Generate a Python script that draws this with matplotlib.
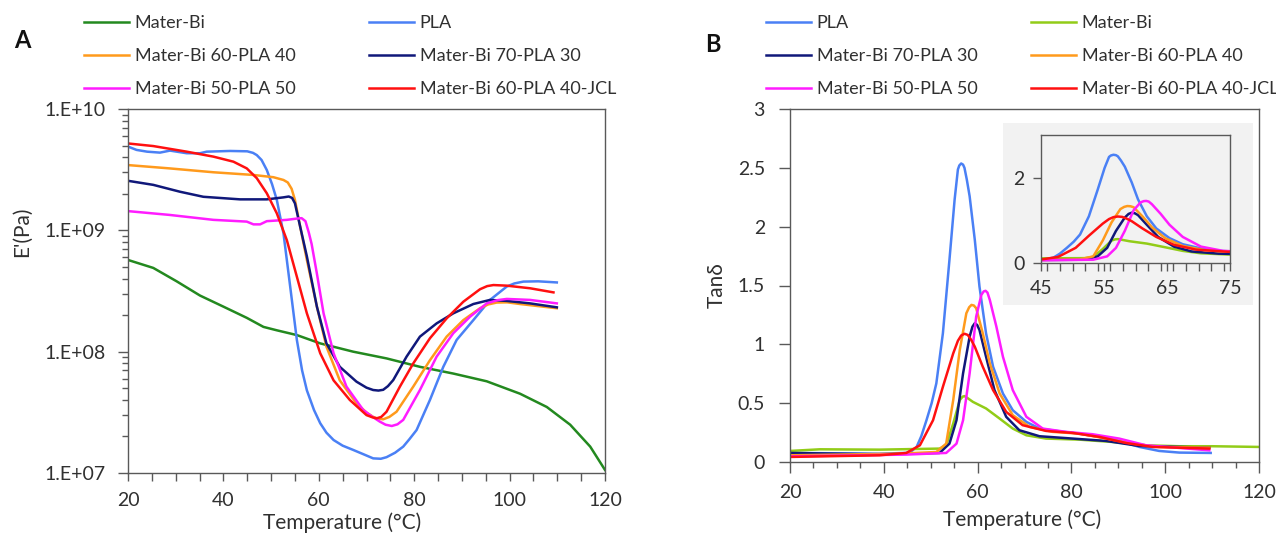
import numpy as np
import matplotlib
matplotlib.use("Agg")
import matplotlib.pyplot as plt
from matplotlib.ticker import MultipleLocator, FixedLocator, FuncFormatter, LogLocator, NullFormatter
from matplotlib.patches import Rectangle
from matplotlib.lines import Line2D

plt.rcParams['font.family'] = ['Lato', 'DejaVu Sans']
plt.rcParams['font.size'] = 14

# ---- Panel A: storage modulus E' (Pa) vs temperature ----
mb_T_a = [20, 25.3, 30.2, 35.1, 40, 44.9, 48.4, 51.2, 55.4, 60.3, 67.2, 74.2, 81.2, 88.2, 95.2,
          102.2, 107.8, 112.7, 116.9, 120]
mb_E = [5.7e8, 4.9e8, 3.8e8, 2.9e8, 2.35e8, 1.9e8, 1.6e8, 1.5e8, 1.37e8, 1.17e8, 1.0e8, 8.8e7,
        7.5e7, 6.6e7, 5.7e7, 4.5e7, 3.5e7, 2.5e7, 1.65e7, 1.06e7]

pla_T_a = [20, 21.8, 24, 26.7, 28.8, 32.3, 35.1, 36.5, 41.4, 45, 46.2, 47, 48, 49.1, 50.2, 51.2,
           52.6, 54, 55.4, 56.5, 57.5, 59, 60.3, 61.6, 63.1, 65, 67.2, 69.5, 71.4, 73, 74.2, 76,
           77.7, 79, 80.5, 83.3, 86.1, 88.9, 92.4, 95.9, 99.4, 101, 102.9, 106, 109.9]
pla_E = [4.9e9, 4.6e9, 4.45e9, 4.37e9, 4.54e9, 4.32e9, 4.32e9, 4.45e9, 4.51e9, 4.48e9, 4.35e9,
         4.17e9, 3.8e9, 3.14e9, 2.4e9, 1.78e9, 9.4e8, 3.44e8, 1.25e8, 7.0e7, 4.8e7, 3.3e7, 2.57e7,
         2.15e7, 1.87e7, 1.68e7, 1.55e7, 1.42e7, 1.32e7, 1.31e7, 1.35e7, 1.47e7, 1.65e7, 1.9e7,
         2.26e7, 4.0e7, 7.5e7, 1.25e8, 1.82e8, 2.67e8, 3.44e8, 3.65e8, 3.78e8, 3.8e8, 3.72e8]

b6040_T_a = [20, 28.7, 37.9, 46.3, 50.5, 52.6, 53.5, 54.3, 55, 56.1, 57.5, 59.6, 61.6, 64.4, 67.9,
             70, 71.4, 72.5, 73.5, 74.8, 76.3, 79.8, 83.3, 86.8, 90.3, 93.8, 95.5, 97.3, 99.5,
             102.2, 109.9]
b6040_E = [3.45e9, 3.24e9, 3.01e9, 2.86e9, 2.74e9, 2.6e9, 2.48e9, 2.2e9, 1.78e9, 1.07e9, 5.7e8,
           2.35e8, 1.1e8, 5.8e7, 3.75e7, 3.15e7, 2.9e7, 2.8e7, 2.77e7, 2.9e7, 3.2e7, 5.15e7, 8.5e7,
           1.33e8, 1.82e8, 2.28e8, 2.45e8, 2.54e8, 2.55e8, 2.47e8, 2.28e8]

b7030_T_a = [20, 25.3, 30.9, 35.8, 43.5, 49.1, 52.6, 53.7, 54.4, 55, 56.1, 57.5, 59.6, 61.6, 64.4,
             67.9, 70, 71.4, 72.5, 73.5, 74.5, 75.6, 78.4, 81.2, 84.7, 88.2, 92.4, 95.9, 99.4,
             104.3, 109.9]
b7030_E = [2.56e9, 2.37e9, 2.08e9, 1.89e9, 1.8e9, 1.8e9, 1.87e9, 1.9e9, 1.85e9, 1.67e9, 1.07e9,
           6.1e8, 2.35e8, 1.17e8, 7.5e7, 5.66e7, 5.05e7, 4.83e7, 4.78e7, 4.85e7, 5.2e7, 5.83e7,
           9.1e7, 1.33e8, 1.71e8, 2.07e8, 2.47e8, 2.67e8, 2.62e8, 2.5e8, 2.32e8]

b5050_T_a = [20, 28.7, 37.9, 44.9, 46.3, 47.7, 49.1, 53.3, 55.4, 56.4, 57.2, 57.9, 58.5, 59.6, 61,
             63.1, 65.8, 69.3, 71, 72.8, 74, 75.3, 76.5, 77.7, 81.2, 84.7, 88.2, 91.7, 95.2, 97.5,
             99.4, 104.3, 109.9]
b5050_E = [1.44e9, 1.34e9, 1.22e9, 1.18e9, 1.12e9, 1.12e9, 1.19e9, 1.22e9, 1.25e9, 1.26e9,
           1.19e9, 9.6e8, 7.7e8, 4.4e8, 2.07e8, 9.7e7, 5.15e7, 3.31e7, 2.95e7, 2.65e7, 2.5e7,
           2.44e7, 2.52e7, 2.74e7, 4.83e7, 9.1e7, 1.42e8, 1.94e8, 2.5e8, 2.66e8, 2.72e8, 2.67e8,
           2.5e8]

jcl_T_a = [20, 25.3, 32.3, 37.9, 42.1, 44.9, 47, 49.1, 51.2, 53.3, 55.4, 57.5, 60.3, 63.1, 66.5, 70,
           71.2, 72.1, 73.1, 74.2, 77, 79.8, 83.3, 86.8, 90.3, 93.8, 95.3, 96.6, 99.4, 104.3, 109.2]
jcl_E = [5.2e9, 4.95e9, 4.45e9, 4.05e9, 3.68e9, 3.24e9, 2.69e9, 2.02e9, 1.38e9, 8.3e8, 4.15e8,
         2.07e8, 9.7e7, 5.8e7, 4.0e7, 3.0e7, 2.88e7, 2.82e7, 2.9e7, 3.2e7, 5.15e7, 8.0e7, 1.29e8,
         1.88e8, 2.58e8, 3.27e8, 3.47e8, 3.54e8, 3.5e8, 3.33e8, 3.08e8]

# ---- Panel B: tan delta vs temperature ----
pla_T_b = [20, 39.1, 44.8, 46, 47, 48, 49.1, 50.2, 51.2, 52.6, 54, 55.1, 55.8, 56.1, 56.5, 56.9,
           57.2, 57.7, 58.3, 59.4, 60.4, 61.8, 63.3, 65.4, 67.5, 70.4, 73.2, 77.4, 81.7, 86, 90.2,
           94.5, 98.7, 103, 109.7]
pla_tan = [0.077, 0.071, 0.077, 0.095, 0.128, 0.22, 0.355, 0.5, 0.668, 1.094, 1.719, 2.23, 2.486,
           2.52, 2.537, 2.527, 2.5, 2.4, 2.259, 1.889, 1.491, 1.094, 0.81, 0.582, 0.44, 0.341,
           0.284, 0.261, 0.241, 0.213, 0.179, 0.128, 0.094, 0.08, 0.077]

mb_T_b = [20, 26.4, 39.1, 51.9, 53.3, 54.8, 56.2, 56.8, 57.2, 57.8, 59, 61.8, 64.7, 67.5, 70.4,
          74.6, 81.7, 88.8, 95.9, 103, 110.1, 120]
mb_tan = [0.094, 0.108, 0.105, 0.114, 0.142, 0.327, 0.526, 0.555, 0.56, 0.545, 0.511, 0.455,
          0.369, 0.284, 0.227, 0.199, 0.19, 0.17, 0.142, 0.134, 0.134, 0.128]

b7030_T_b = [20, 39.1, 51.9, 54, 55.5, 56.9, 58.3, 58.9, 59.4, 59.9, 60.4, 61.8, 63.6, 66.1, 68.9,
             73.2, 80.3, 87.4, 94.5, 109.4]
b7030_tan = [0.077, 0.065, 0.077, 0.156, 0.355, 0.753, 1.065, 1.15, 1.179, 1.165, 1.122, 0.895,
             0.611, 0.384, 0.27, 0.219, 0.199, 0.179, 0.136, 0.122]

b6040_T_b = [20, 43.4, 51.2, 53.3, 54.8, 56.2, 57.6, 58.2, 58.7, 59.2, 59.7, 61.1, 62.6, 64.7,
             67.5, 71.1, 76, 81.7, 87.4, 93, 98.7, 109.4]
b6040_tan = [0.057, 0.071, 0.085, 0.156, 0.526, 0.952, 1.264, 1.315, 1.335, 1.33, 1.307, 1.094,
             0.838, 0.582, 0.398, 0.298, 0.256, 0.241, 0.199, 0.156, 0.128, 0.122]

b5050_T_b = [20, 44.8, 53.3, 55.5, 56.9, 58.3, 59.7, 60.8, 61.3, 61.7, 62.1, 62.6, 64, 65.4, 67.5,
             70.4, 73.9, 78.9, 84.5, 90.2, 95.9, 109.4]
b5050_tan = [0.048, 0.063, 0.077, 0.156, 0.355, 0.753, 1.236, 1.42, 1.45, 1.455, 1.44, 1.378,
             1.151, 0.895, 0.611, 0.384, 0.284, 0.256, 0.236, 0.199, 0.142, 0.099]

jcl_T_b = [20, 39.1, 44.8, 47.7, 50.5, 52.6, 54.8, 55.8, 56.5, 57.2, 57.9, 58.6, 59.4, 61.1, 63.3,
           66.1, 69.6, 74.6, 80.3, 86, 91.6, 97.3, 109.4]
jcl_tan = [0.043, 0.057, 0.077, 0.142, 0.355, 0.639, 0.923, 1.03, 1.075, 1.09, 1.08, 1.04, 0.98,
           0.81, 0.611, 0.426, 0.313, 0.264, 0.247, 0.213, 0.162, 0.128, 0.114]

colors = {"Mater-Bi": "#23891f", "PLA": "#4a80f5", "Mater-Bi 60-PLA 40": "#ff9a1c",
          "Mater-Bi 70-PLA 30": "#10187a", "Mater-Bi 50-PLA 50": "#ff1cff",
          "Mater-Bi 60-PLA 40-JCL": "#ff1010"}
mb_color_b = "#92cc18"

text_c = "#303030"
spine_c = "#595959"
lw = 1.8

W, H = 1276, 533
fig = plt.figure(figsize=(W / 100, H / 100), dpi=100)


def fx(px):
    return px / W


def fy(py):
    return 1 - py / H


def style_axes(ax, pad=9):
    for s in ax.spines.values():
        s.set_color(spine_c)
        s.set_linewidth(1.0)
    ax.tick_params(which="both", direction="out", color=spine_c, labelcolor=text_c,
                   top=False, right=False, width=1.0, pad=pad, labelsize=14)
    ax.tick_params(which="major", length=6)
    ax.tick_params(which="minor", length=4)


# ---- panel A ----
axA = fig.add_axes([fx(128), fy(473), fx(605) - fx(128), fy(109) - fy(473)])
series_a = [("Mater-Bi", mb_T_a, mb_E), ("PLA", pla_T_a, pla_E),
            ("Mater-Bi 60-PLA 40", b6040_T_a, b6040_E), ("Mater-Bi 70-PLA 30", b7030_T_a, b7030_E),
            ("Mater-Bi 50-PLA 50", b5050_T_a, b5050_E), ("Mater-Bi 60-PLA 40-JCL", jcl_T_a, jcl_E)]
for name, t, e in series_a:
    axA.plot(t, e, color=colors[name], lw=lw, solid_joinstyle="round")
axA.set_yscale("log")
axA.set_ylim(1e7, 1e10)
axA.set_xlim(20, 120)
axA.xaxis.set_major_locator(MultipleLocator(20))
axA.xaxis.set_minor_locator(MultipleLocator(5))
axA.yaxis.set_major_locator(LogLocator(base=10, numticks=10))
axA.yaxis.set_minor_locator(LogLocator(base=10, subs=np.arange(2, 10), numticks=20))
axA.yaxis.set_minor_formatter(NullFormatter())
axA.yaxis.set_major_formatter(FuncFormatter(lambda v, p: "1.E+%02d" % int(round(np.log10(v)))))
style_axes(axA)
axA.tick_params(axis="y", which="major", length=7)
axA.tick_params(axis="x", which="both", length=6, pad=8)
axA.set_xlabel("Temperature (°C)", color=text_c, fontsize=15)
axA.xaxis.set_label_coords((342 - 128) / 477, -(512 - 473) / 364)
axA.set_ylabel("E'(Pa)", color=text_c, fontsize=15)
axA.yaxis.set_label_coords(-(128 - 32) / 477, (473 - 232) / 364)

# ---- panel B ----
axB = fig.add_axes([fx(790), fy(462), fx(1259) - fx(790), fy(109) - fy(462)])
series_b = [("PLA", pla_T_b, pla_tan, colors["PLA"]),
            ("Mater-Bi", mb_T_b, mb_tan, mb_color_b),
            ("Mater-Bi 70-PLA 30", b7030_T_b, b7030_tan, colors["Mater-Bi 70-PLA 30"]),
            ("Mater-Bi 60-PLA 40", b6040_T_b, b6040_tan, colors["Mater-Bi 60-PLA 40"]),
            ("Mater-Bi 50-PLA 50", b5050_T_b, b5050_tan, colors["Mater-Bi 50-PLA 50"]),
            ("Mater-Bi 60-PLA 40-JCL", jcl_T_b, jcl_tan, colors["Mater-Bi 60-PLA 40-JCL"])]
for name, t, v, c in series_b:
    axB.plot(t, v, color=c, lw=lw, solid_joinstyle="round")
axB.set_xlim(20, 120)
axB.set_ylim(0, 3)
axB.xaxis.set_major_locator(MultipleLocator(20))
axB.xaxis.set_minor_locator(MultipleLocator(5))
axB.yaxis.set_major_locator(MultipleLocator(0.5))
axB.yaxis.set_major_formatter(FuncFormatter(lambda v, p: "%g" % v))
style_axes(axB)
axB.tick_params(axis="x", which="major", length=8, pad=8)
axB.tick_params(axis="y", which="major", length=8, pad=10)
axB.set_xlabel("Temperature (°C)", color=text_c, fontsize=15)
axB.xaxis.set_label_coords(0.496, -(509 - 462) / 353)
axB.set_ylabel("Tanδ", color=text_c, fontsize=15)
axB.yaxis.set_label_coords(-(790 - 727) / 469, (462 - 285) / 353)

# gray panel behind the inset
fig.add_artist(Rectangle((fx(1003), fy(305)), fx(1253) - fx(1003), fy(123) - fy(305),
                         transform=fig.transFigure, facecolor="#f2f2f2", edgecolor="none",
                         zorder=2))
axI = fig.add_axes([fx(1041), fy(263), fx(1230) - fx(1041), fy(135) - fy(263)], zorder=3)
axI.set_facecolor("#f2f2f2")
for name, t, v, c in series_b:
    axI.plot(t, v, color=c, lw=lw, solid_joinstyle="round")
axI.set_xlim(45, 75)
axI.set_ylim(0, 3)
axI.xaxis.set_major_locator(FixedLocator([45, 55, 65, 75]))
axI.xaxis.set_minor_locator(MultipleLocator(2))
axI.yaxis.set_major_locator(FixedLocator([0, 2]))
style_axes(axI, pad=6)
axI.tick_params(which="both", length=6)


# ---- legends ----
def column_legend(labels, cols, x_px, y_px):
    handles = [Line2D([], [], color=c, lw=lw) for c in cols]
    return fig.legend(handles, labels, loc="upper left",
                      bbox_to_anchor=(fx(x_px), fy(y_px)), frameon=False, borderpad=0,
                      borderaxespad=0, handlelength=2.5, handletextpad=0.3, labelspacing=0.95,
                      labelcolor=text_c, fontsize=13)


column_legend(["Mater-Bi", "Mater-Bi 60-PLA 40", "Mater-Bi 50-PLA 50"],
              [colors["Mater-Bi"], colors["Mater-Bi 60-PLA 40"], colors["Mater-Bi 50-PLA 50"]],
              84, 15)
column_legend(["PLA", "Mater-Bi 70-PLA 30", "Mater-Bi 60-PLA 40-JCL"],
              [colors["PLA"], colors["Mater-Bi 70-PLA 30"], colors["Mater-Bi 60-PLA 40-JCL"]],
              369, 15)
column_legend(["PLA", "Mater-Bi 70-PLA 30", "Mater-Bi 50-PLA 50"],
              [colors["PLA"], colors["Mater-Bi 70-PLA 30"], colors["Mater-Bi 50-PLA 50"]],
              766, 15)
column_legend(["Mater-Bi", "Mater-Bi 60-PLA 40", "Mater-Bi 60-PLA 40-JCL"],
              [mb_color_b, colors["Mater-Bi 60-PLA 40"], colors["Mater-Bi 60-PLA 40-JCL"]],
              1031, 15)

fig.text(fx(22), fy(40), "A", fontsize=17, fontweight="bold", color="#111111",
         ha="center", va="center")
fig.text(fx(713), fy(44), "B", fontsize=17, fontweight="bold", color="#111111",
         ha="center", va="center")

fig.savefig("out.png", dpi=100)
